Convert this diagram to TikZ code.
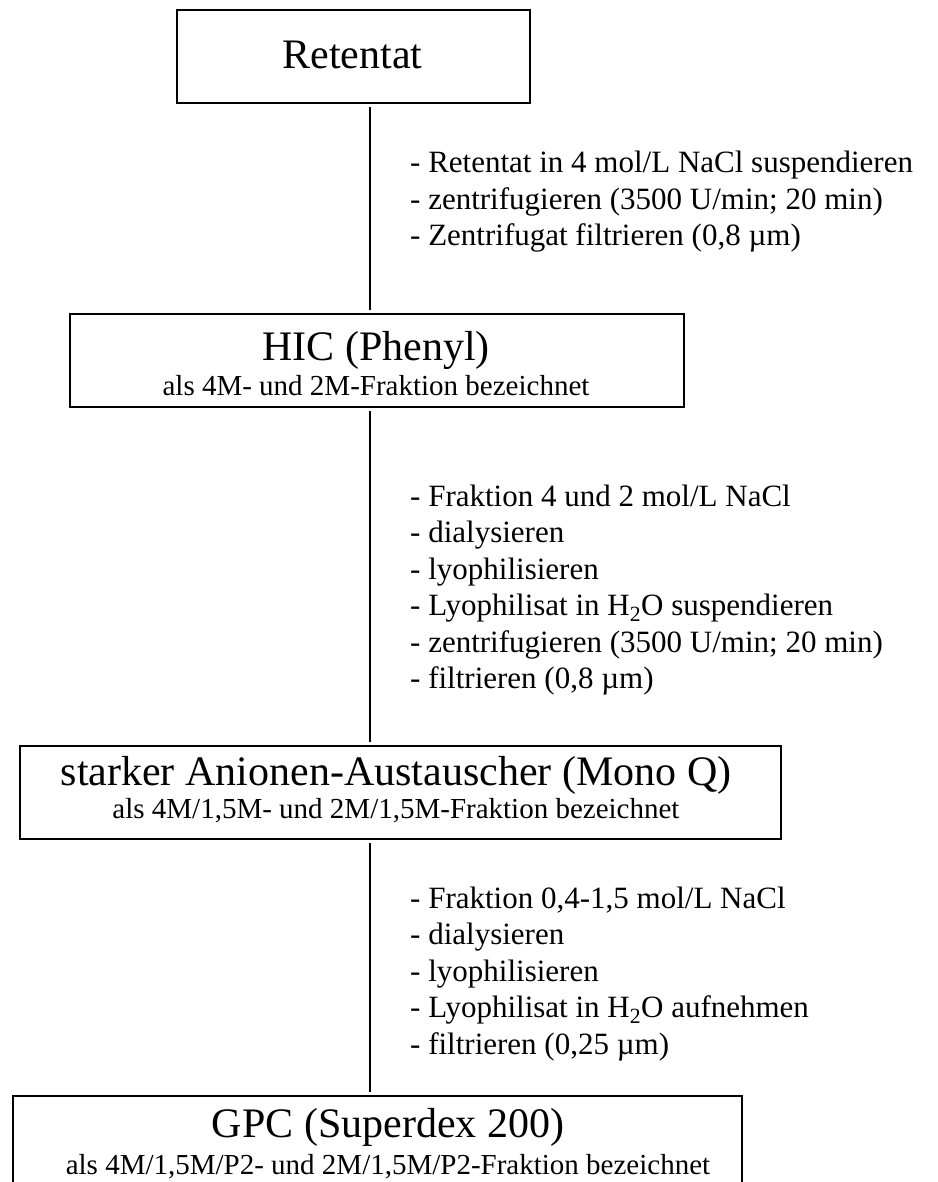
\documentclass[tikz,border=0pt]{standalone}
\usepackage{fontspec}
\setmainfont{Liberation Serif}
\begin{document}
\begin{tikzpicture}[x=1pt,y=-1pt,
  stagebox/.style={draw, line width=2pt, anchor=north west, inner sep=0pt},
  titletext/.style={font=\fontsize{42}{50}\selectfont, inner sep=0pt, anchor=base},
  subtext/.style={font=\fontsize{29}{34}\selectfont, inner sep=0pt, anchor=base},
  steptext/.style={font=\fontsize{31}{36.5}\selectfont, anchor=base west, inner sep=0pt},
  link/.style={line width=1.5pt, shorten <=3pt, shorten >=3pt}]
\useasboundingbox (0,0) rectangle (937,1182);
\clip (0,0) rectangle (937,1182);
\coordinate (xl) at (370,0);
% boxes
\node[stagebox, minimum width=353pt, minimum height=93pt] (b1) at (176,9) {};
\node[stagebox, minimum width=614pt, minimum height=93pt] (b2) at (69,313) {};
\node[stagebox, minimum width=761pt, minimum height=93pt] (b3) at (19,745) {};
\node[stagebox, minimum width=729pt, minimum height=160pt] (b4) at (12,1095) {};
% titles
\node[titletext] (t1) at (352.5,69) {Retentat};
\node[titletext] (t2) at (376,360) {HIC (Phenyl)};
\node[subtext] (s2) at (376,395) {als 4M- und 2M-Fraktion bezeichnet};
\node[titletext] (t3) at (396,785) {starker Anionen-Austauscher (Mono Q)};
\node[subtext] (s3) at (396,818) {als 4M/1,5M- und 2M/1,5M-Fraktion bezeichnet};
\node[titletext] (t4) at (388,1137) {GPC (Superdex 200)};
\node[subtext] (s4) at (388,1174) {als 4M/1,5M/P2- und 2M/1,5M/P2-Fraktion bezeichnet};
% connectors
\draw[link] (b1.south -| xl) -- (b2.north -| xl);
\draw[link] (b2.south -| xl) -- (b3.north -| xl);
\draw[link] (b3.south -| xl) -- (b4.north -| xl);
% step lists
\node[steptext] (p1a) at (410,173) {- Retentat in 4 mol/L NaCl suspendieren};
\node[steptext] (p1b) at (410,209.5) {- zentrifugieren (3500 U/min; 20 min)};
\node[steptext] (p1c) at (410,246) {- Zentrifugat filtrieren (0,8 µm)};
\node[steptext] (p2a) at (410,506) {- Fraktion 4 und 2 mol/L NaCl};
\node[steptext] (p2b) at (410,542.5) {- dialysieren};
\node[steptext] (p2c) at (410,579) {- lyophilisieren};
\node[steptext] (p2d) at (410,615.5) {- Lyophilisat in H\textsubscript{2}O suspendieren};
\node[steptext] (p2e) at (410,652) {- zentrifugieren (3500 U/min; 20 min)};
\node[steptext] (p2f) at (410,688.5) {- filtrieren (0,8 µm)};
\node[steptext] (p3a) at (410,908) {- Fraktion 0,4-1,5 mol/L NaCl};
\node[steptext] (p3b) at (410,944.5) {- dialysieren};
\node[steptext] (p3c) at (410,981) {- lyophilisieren};
\node[steptext] (p3d) at (410,1017.5) {- Lyophilisat in H\textsubscript{2}O aufnehmen};
\node[steptext] (p3e) at (410,1054) {- filtrieren (0,25 µm)};
\end{tikzpicture}
\end{document}
